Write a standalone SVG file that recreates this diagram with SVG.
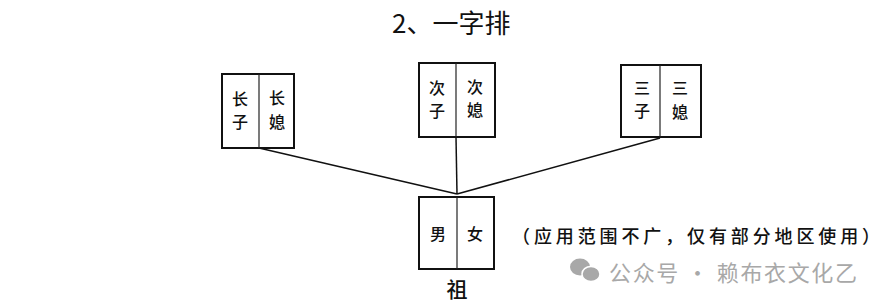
<svg xmlns="http://www.w3.org/2000/svg" width="885" height="306" viewBox="0 0 885 306">
<style>
.box{fill:#fff;stroke:#111;stroke-width:2}
.div{stroke:#222;stroke-width:1.2}
.con{stroke:#111;stroke-width:1.5;fill:none}
.t{font-family:"Noto Sans CJK SC","Noto Sans",sans-serif;font-size:16px;font-weight:500;fill:#111;text-anchor:middle;dominant-baseline:central}
.big{font-size:21px}
.title{font-family:"Noto Sans CJK SC","Noto Sans",sans-serif;font-size:26px;fill:#111}
.cap{font-family:"Noto Sans CJK SC","Noto Sans",sans-serif;font-size:18px;font-weight:500;fill:#111;dominant-baseline:central}
.wm{font-family:"Noto Sans CJK SC","Noto Sans",sans-serif;font-size:22px;fill:#a8a8a8;dominant-baseline:central}
</style>
<rect width="885" height="306" fill="#fff"/>
<text class="title" x="392" y="33">2、一字排</text>
<g id="connectors">
<line class="con" x1="259" y1="148" x2="457" y2="194"/>
<line class="con" x1="456" y1="137" x2="457" y2="194"/>
<line class="con" x1="660" y1="138" x2="457" y2="194"/>
</g>
<g id="n1">
<rect class="box" x="222" y="74" width="72" height="74"/>
<line class="div" x1="259" y1="74" x2="259" y2="148"/>
<text class="t" x="240" y="98">长</text><text class="t" x="240" y="121">子</text>
<text class="t" x="277" y="97">长</text><text class="t" x="277" y="121">媳</text>
</g>
<g id="n2">
<rect class="box" x="419" y="63" width="76" height="74"/>
<line class="div" x1="456" y1="63" x2="456" y2="137"/>
<text class="t" x="437" y="87">次</text><text class="t" x="437" y="110">子</text>
<text class="t" x="475" y="86">次</text><text class="t" x="475" y="109">媳</text>
</g>
<g id="n3">
<rect class="box" x="621" y="65" width="80" height="72"/>
<line class="div" x1="660" y1="65" x2="660" y2="137"/>
<text class="t" x="642" y="87">三</text><text class="t" x="642" y="110">子</text>
<text class="t" x="680" y="87">三</text><text class="t" x="680" y="111">媳</text>
</g>
<g id="n4">
<rect class="box" x="419" y="197" width="75" height="72"/>
<line class="div" x1="457" y1="197" x2="457" y2="269"/>
<text class="t" x="438" y="233">男</text><text class="t" x="475" y="233">女</text>
<text class="t big" x="457" y="288">祖</text>
</g>
<text class="cap" x="512" y="235" textLength="368" lengthAdjust="spacing">（应用范围不广，仅有部分地区使用）</text>
<g id="wm" fill="#a8a8a8">
<ellipse cx="580" cy="267" rx="10" ry="8.5"/>
<ellipse cx="591" cy="274" rx="9" ry="7.5" stroke="#fff" stroke-width="1.5"/>
<text class="wm" x="609" y="271" textLength="248" lengthAdjust="spacing">公众号 · 赖布衣文化乙</text>
</g>
</svg>
